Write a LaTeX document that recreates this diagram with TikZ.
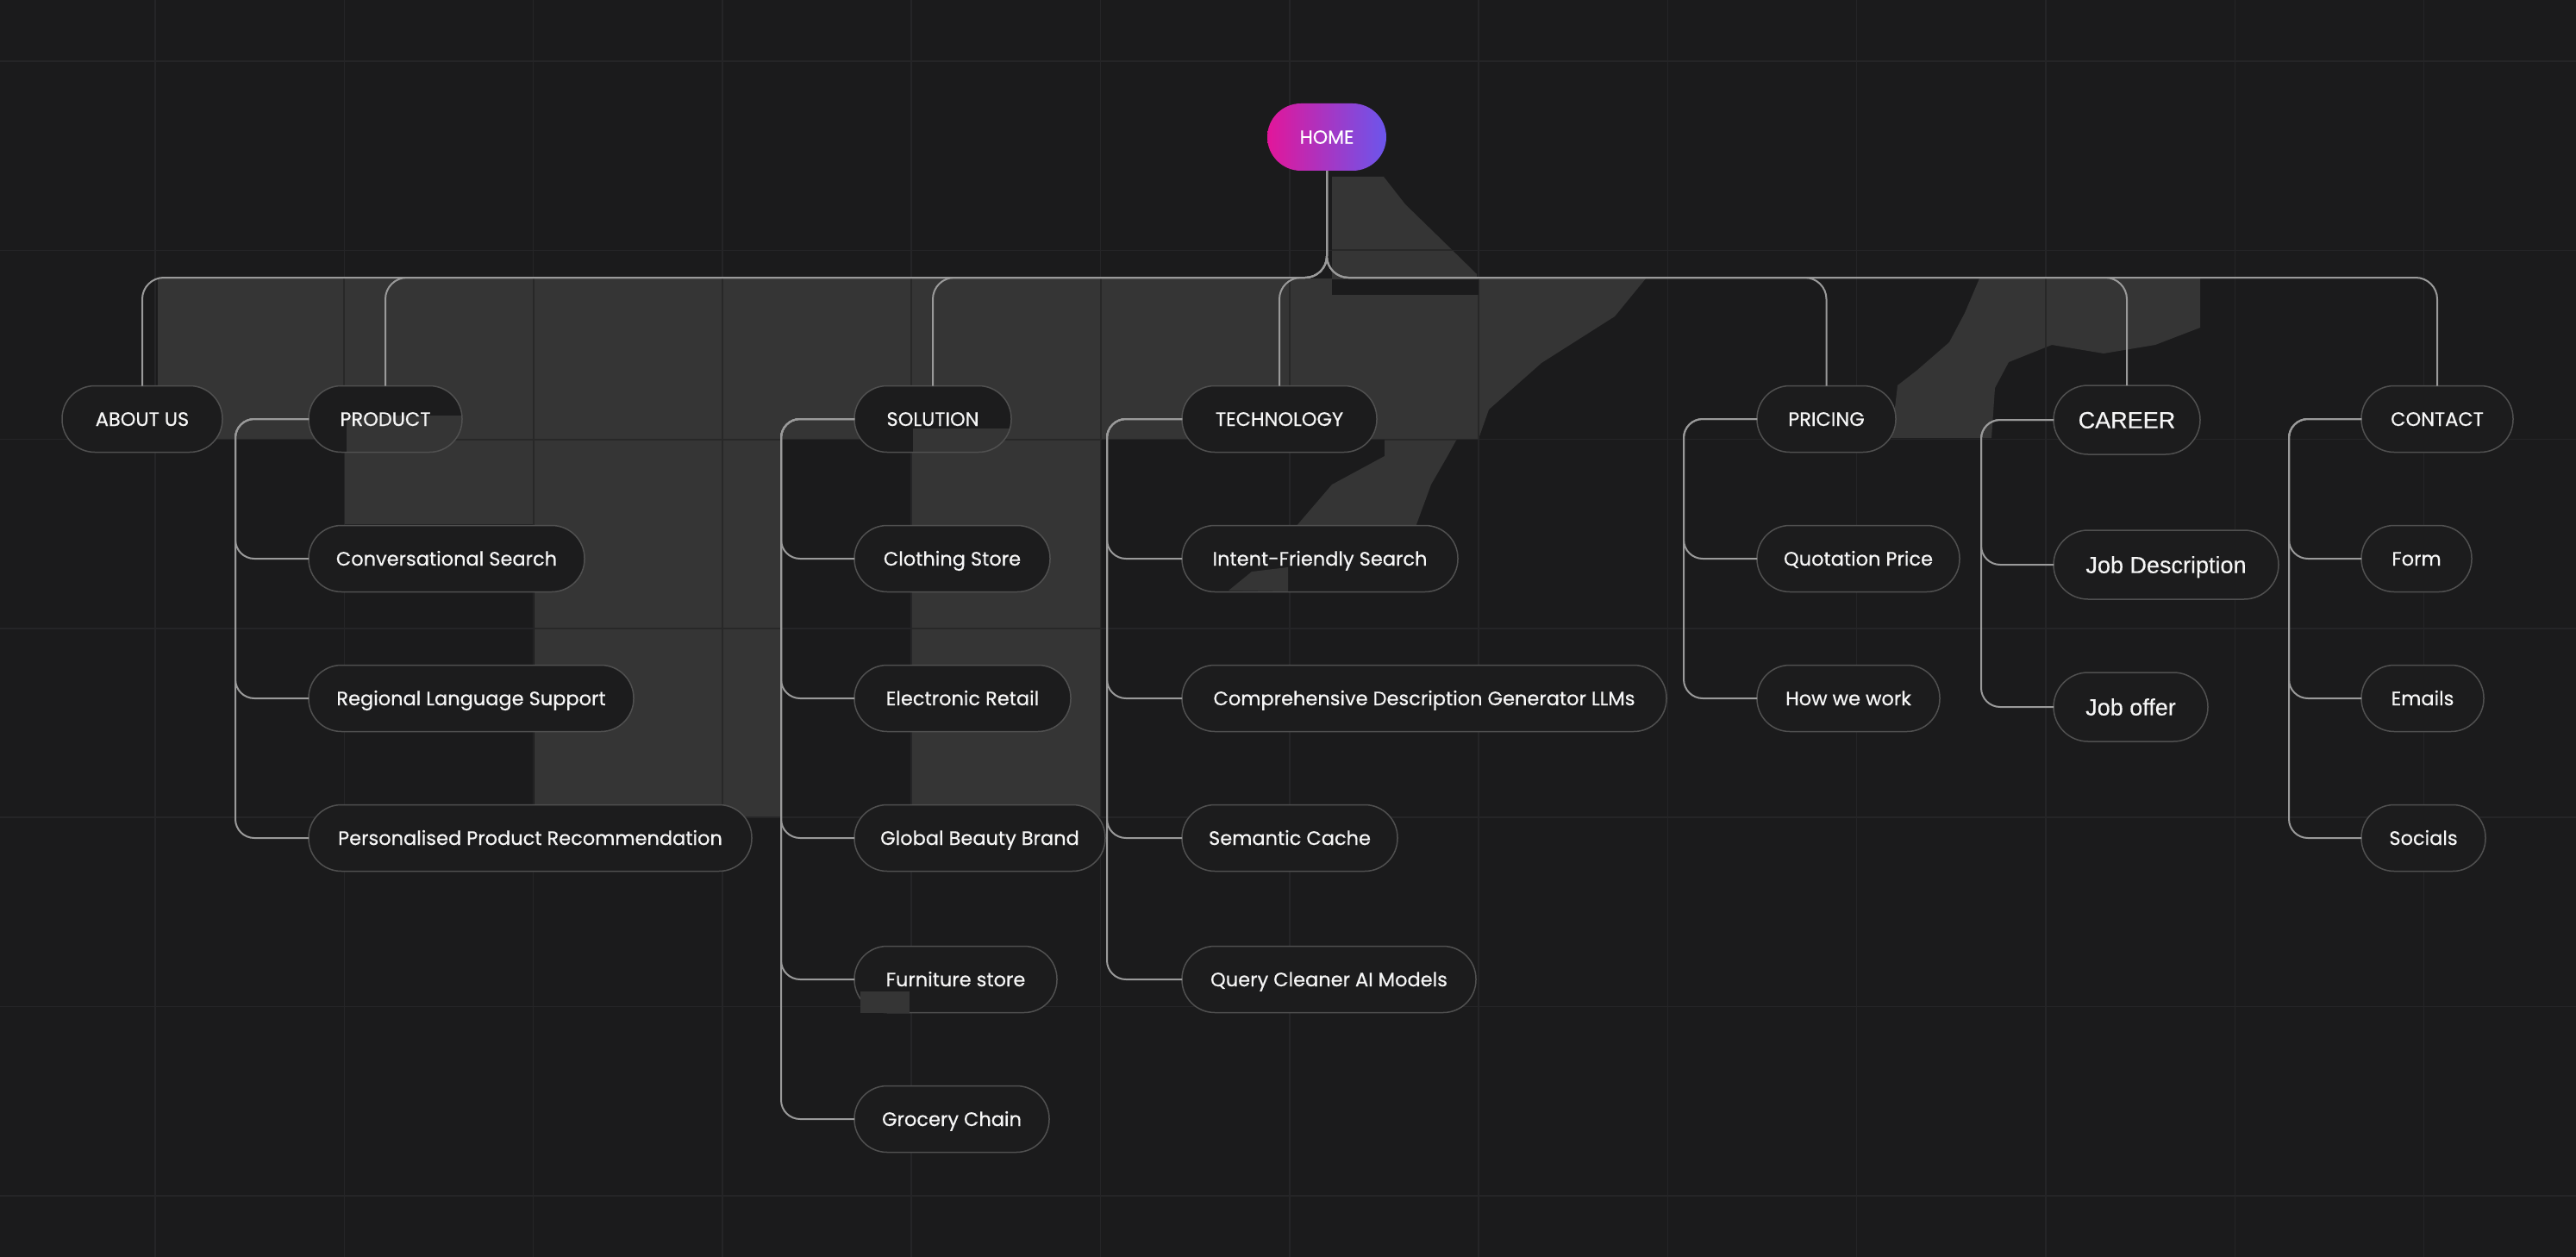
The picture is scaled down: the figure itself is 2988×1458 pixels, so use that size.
\documentclass[tikz,border=0pt]{standalone}
\usepackage{fontspec}
\setmainfont{Poppins}[FakeBold=0.5]
\newfontfamily\altfont{Liberation Sans}[FakeBold=0.3]
\usetikzlibrary{calc}
\definecolor{bgc}{HTML}{1B1B1C}
\definecolor{gridc}{HTML}{252527}
\definecolor{gridd}{HTML}{282828}
\definecolor{patchc}{HTML}{353535}
\definecolor{nodefill}{HTML}{1C1C1D}
\definecolor{nodeborder}{HTML}{505050}
\definecolor{connc}{HTML}{9A9A9A}
\definecolor{txt}{HTML}{F6F6F6}
\definecolor{homeL}{HTML}{E2169A}
\definecolor{homeR}{HTML}{6B56EC}
\begin{document}
\begin{tikzpicture}[x=1pt,y=-1pt]
\tikzset{
 box/.style={draw=nodeborder, line width=1.5pt, fill=nodefill, rounded corners=38pt,
   minimum height=77pt, inner sep=0pt, outer sep=0pt, anchor=west, text=txt,
   font=\fontsize{22.5}{27}\selectfont, text height=20pt, text depth=4pt},
 altbox/.style={box, minimum height=80pt, rounded corners=40pt,
   font=\altfont\fontsize{27}{32}\selectfont, text height=24pt, text depth=4.6pt},
 conn/.style={draw=connc, line width=2pt, rounded corners=22pt},
 topconn/.style={draw=connc, line width=2pt, rounded corners=25pt},
}
\useasboundingbox (0,0) rectangle (2988,1458);
\fill[bgc] (0,0) rectangle (2988,1458);
% grid
\foreach \i in {0,...,12} \draw[gridc, line width=1.5pt] ({180+219.3*\i},0) -- ({180+219.3*\i},1458);
\foreach \j in {0,...,6} \draw[gridc, line width=1.5pt] (0,{71+219.3*\j}) -- (2988,{71+219.3*\j});
% background patches
\def\patchshapes{
 (183,323) -- (1909,323) -- (1873,367) -- (1788,421) -- (1727,475) -- (1715,509) -- (183,509) -- cycle
 (400,509) rectangle (620,608)
 (620,509) rectangle (906,947)
 (1058,509) rectangle (1277,947)
 (1545,205) -- (1605,205) -- (1630,237) -- (1667,273) -- (1713,318) -- (1713,323) -- (1545,323) -- cycle
 (1606,509) -- (1690,509) -- (1679,529) -- (1660,562) -- (1642,611) -- (1503,611) -- (1545,562) -- (1606,529) -- cycle
 (2296,323) -- (2552,323) -- (2552,380) -- (2500,400) -- (2440,410) -- (2380,400) -- (2330,420) -- (2314,450) -- (2310,508) -- (2194,508) -- (2201,447) -- (2223,430) -- (2261,397) -- (2279,363) -- cycle
}
\fill[patchc] \patchshapes;
\begin{scope}
\clip \patchshapes;
\foreach \i in {0,...,12} \draw[gridd, line width=2pt] ({180+219.3*\i},0) -- ({180+219.3*\i},1458);
\foreach \j in {0,...,6} \draw[gridd, line width=2pt] (0,{71+219.3*\j}) -- (2988,{71+219.3*\j});
\end{scope}
\fill[bgc] (1545,324) rectangle (1715,342);

% manual fills for nodes with overlays
\fill[nodefill, rounded corners=38pt] (358,447.5) rectangle (536,524.5);
\fill[nodefill, rounded corners=38pt] (991,447.5) rectangle (1173,524.5);
\begin{scope}
\clip[rounded corners=38pt] (358,447.5) rectangle (536,524.5);
\fill[patchc] (402,482) rectangle (540,530);
\end{scope}
\begin{scope}
\clip[rounded corners=38pt] (991,447.5) rectangle (1173,524.5);
\fill[patchc] (1059,497) rectangle (1180,530);
\end{scope}

% home
\node[draw=none, rounded corners=39pt, minimum width=138pt, minimum height=78pt,
  left color=homeL, right color=homeR, text=white, inner sep=0pt,
  font=\fontsize{22}{26}\selectfont, text height=19.5pt, text depth=4pt] (home) at (1539,159) {HOME};

% level 1
\node[box, minimum width=186pt] (about) at (72,486) {ABOUT US};
\node[box, minimum width=178pt, fill=none] (prod) at (358,486) {PRODUCT};
\node[box, minimum width=182pt, fill=none] (sol) at (991,486) {SOLUTION};
\node[box, minimum width=226pt] (tech) at (1371,486) {TECHNOLOGY};
\node[box, minimum width=161pt] (pric) at (2038,486) {PRICING};
\node[altbox, minimum width=170pt] (car) at (2382,487) {CAREER};
\node[box, minimum width=176pt] (cont) at (2739,486) {CONTACT};

% product children
\node[box, minimum width=320pt] (p1) at (358,648) {Conversational Search};
\node[box, minimum width=377pt] (p2) at (358,810) {Regional Language Support};
\node[box, minimum width=514pt] (p3) at (358,972) {Personalised Product Recommendation};
% solution children
\node[box, minimum width=227pt] (s1) at (991,648) {Clothing Store};
\node[box, minimum width=251pt] (s2) at (991,810) {Electronic Retail};
\node[box, minimum width=291pt] (s3) at (991,972) {Global Beauty Brand};
\node[box, minimum width=235pt] (s4) at (991,1136) {Furniture store};
\node[box, minimum width=226pt] (s5) at (991,1298) {Grocery Chain};
% technology children
\node[box, minimum width=320pt] (t1) at (1371,648) {Intent-Friendly Search};
\node[box, minimum width=562pt] (t2) at (1371,810) {Comprehensive Description Generator LLMs};
\node[box, minimum width=250pt] (t3) at (1371,972) {Semantic Cache};
\node[box, minimum width=341pt] (t4) at (1371,1136) {Query Cleaner AI Models};
% pricing children
\node[box, minimum width=235pt] (r1) at (2038,648) {Quotation Price};
\node[box, minimum width=212pt] (r2) at (2038,810) {How we work};
% career children
\node[altbox, minimum width=261pt] (k1) at (2382,655) {Job Description};
\node[altbox, minimum width=179pt] (k2) at (2382,820) {Job offer};
% contact children
\node[box, minimum width=128pt] (c1) at (2739,648) {Form};
\node[box, minimum width=142pt] (c2) at (2739,810) {Emails};
\node[box, minimum width=144pt] (c3) at (2739,972) {Socials};

% overlay artifacts
\fill[patchc] (1425,685) -- (1452,663) -- (1494,658) -- (1494,686) -- cycle;
\fill[patchc] (998,1150) rectangle (1055,1175);

% top connectors
\coordinate (bus) at (0,322);
\foreach \n in {about,prod,sol,tech,pric,car,cont}
  \draw[topconn] (home.south) |- (\n.north |- bus) -- (\n.north);

% child connectors
\coordinate (pv) at (273,0);
\coordinate (sv) at (906,0);
\coordinate (tv) at (1284,0);
\coordinate (rv) at (1953,0);
\coordinate (kv) at (2298,0);
\coordinate (cv) at (2655,0);
\foreach \c in {p1,p2,p3} \draw[conn] (prod.west) -| (pv |- \c.west) -- (\c.west);
\foreach \c in {s1,s2,s3,s4,s5} \draw[conn] (sol.west) -| (sv |- \c.west) -- (\c.west);
\foreach \c in {t1,t2,t3,t4} \draw[conn] (tech.west) -| (tv |- \c.west) -- (\c.west);
\foreach \c in {r1,r2} \draw[conn] (pric.west) -| (rv |- \c.west) -- (\c.west);
\foreach \c in {k1,k2} \draw[conn] (car.west) -| (kv |- \c.west) -- (\c.west);
\foreach \c in {c1,c2,c3} \draw[conn] (cont.west) -| (cv |- \c.west) -- (\c.west);
\end{tikzpicture}
\end{document}
